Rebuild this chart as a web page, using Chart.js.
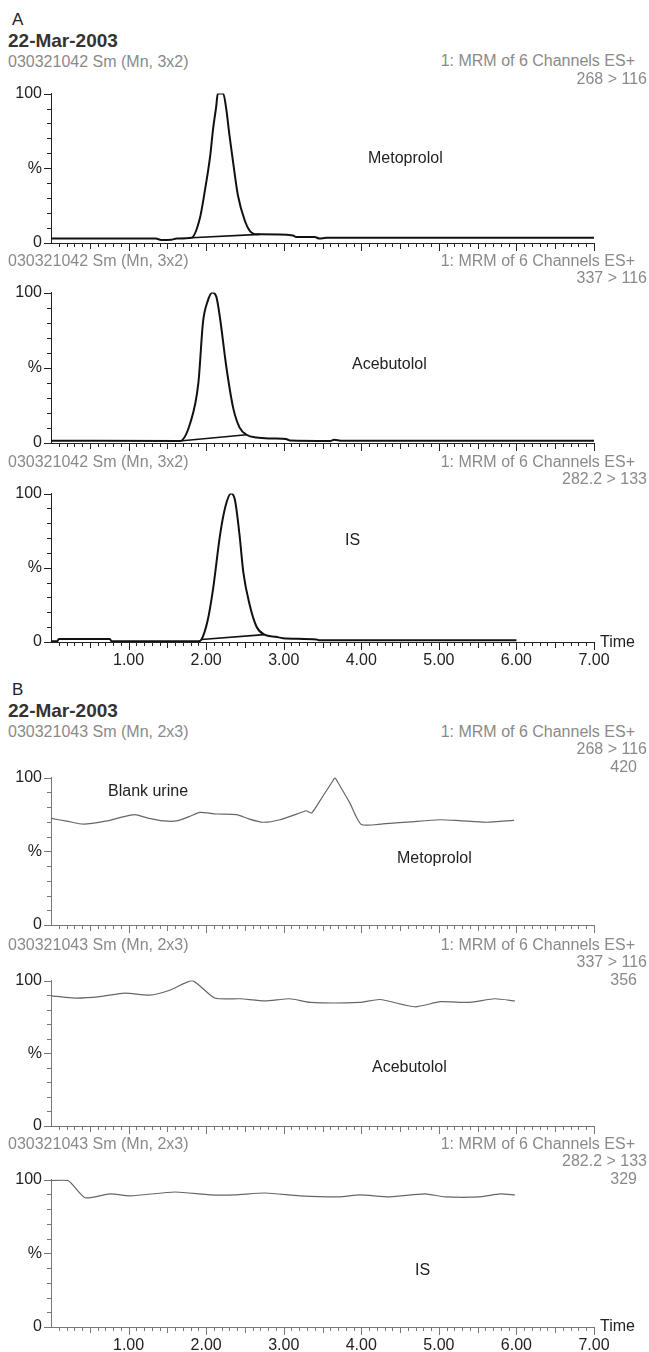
<!DOCTYPE html>
<html>
<head>
<meta charset="utf-8">
<script src="https://cdn.jsdelivr.net/npm/chart.js@4.4.0/dist/chart.umd.min.js"></script>
<style>
  body { margin: 0; background: #fff; }
  #page { position: relative; width: 649px; height: 1352px; overflow: hidden; font-family: "Liberation Sans", Arial, sans-serif; }
  #page canvas { position: absolute; left: 0; }
  .t { position: absolute; font-size: 16px; line-height: 16px; white-space: nowrap; color: #222; }
  .g { color: #8a8a8a; }
  .b { font-weight: bold; color: #333; font-size: 19px; line-height: 19px; }
  .h { font-size: 17px; line-height: 17px; }
  .r { text-align: right; }
</style>
</head>
<body>
<div id="page"></div>
<script>
// tick labels
const xTicks = [1, 2, 3, 4, 5, 6, 7];
const yTicks = [0, 50, 100];
const yTickLabels = ['0', '%', '100'];

// A: standard (time in min, intensity in %)
const a1Time = [0, 1.35, 1.42, 1.55, 1.62, 1.81, 1.92, 1.98, 2.05, 2.09, 2.13, 2.15, 2.22, 2.26, 2.30, 2.35, 2.41, 2.50, 2.56, 2.65, 2.70, 3.12, 3.16, 3.40, 3.46, 3.55, 7.0];
const a1Pct  = [3, 3, 2, 2.2, 3, 3.5, 16.8, 33.9, 57.4, 76.6, 91.5, 100, 100, 89.4, 72.3, 53.1, 31.8, 14.7, 8.3, 5.8, 5.8, 5.1, 4, 4, 3, 3.5, 3.5];
const a1BaseTime = [1.81, 2.69];
const a1BasePct  = [3.5, 5.8];

const a2Time = [0, 1.66, 1.79, 1.90, 1.96, 2.02, 2.08, 2.13, 2.18, 2.26, 2.35, 2.43, 2.52, 2.65, 2.86, 3.03, 3.08, 3.60, 3.65, 3.75, 7.0];
const a2Pct  = [1.5, 1.3, 12.5, 40, 80.5, 94.3, 100, 97.5, 82.6, 50.7, 23, 10.4, 5.5, 3.6, 3, 2.6, 1.7, 1.4, 2.2, 1.5, 1.5];
const a2BaseTime = [1.66, 2.52];
const a2BasePct  = [1.3, 5.5];

const a3Time = [0, 0.08, 0.10, 0.76, 0.78, 1.90, 1.94, 2.02, 2.09, 2.18, 2.25, 2.32, 2.37, 2.43, 2.48, 2.56, 2.65, 2.75, 2.90, 2.99, 3.42, 3.46, 6.0];
const a3Pct  = [0.5, 0.5, 2, 2, 0.5, 0.5, 1.7, 14.6, 36, 72.4, 91.6, 100, 96, 72.4, 46.7, 25.3, 10.3, 5, 3.5, 2.6, 1.7, 1.1, 1.1];
const a3BaseTime = [1.94, 2.75];
const a3BasePct  = [1.7, 5];

// B: blank urine
const b1Time = [0, 0.2, 0.42, 0.72, 0.9, 1.08, 1.25, 1.45, 1.62, 1.78, 1.92, 2.13, 2.39, 2.55, 2.73, 2.95, 3.25, 3.29, 3.36, 3.50, 3.63, 3.66, 3.69, 3.85, 4.0, 4.28, 4.62, 5.01, 5.26, 5.61, 5.78, 5.97];
const b1Pct  = [72.3, 70.5, 68.4, 70.6, 73, 74.9, 72.5, 70.6, 70.6, 73.5, 76.4, 75.3, 74.9, 72, 69.7, 71.4, 76.8, 77.5, 76, 87, 97.5, 100, 97.5, 83, 68.2, 68.6, 69.9, 71.4, 70.8, 69.7, 70.3, 71];

const b2Time = [0, 0.31, 0.63, 0.95, 1.27, 1.53, 1.82, 2.11, 2.44, 2.76, 3.08, 3.34, 3.98, 4.24, 4.69, 5.02, 5.4, 5.72, 5.98];
const b2Pct  = [89.5, 88, 89, 91.4, 90, 93.4, 100, 88, 87.5, 86, 87.5, 85, 85, 87, 82, 85.5, 85, 87.5, 86];

const b3Time = [0, 0.22, 0.44, 0.76, 1.02, 1.6, 2.05, 2.37, 2.76, 3.21, 3.72, 3.98, 4.37, 4.82, 5.08, 5.53, 5.79, 5.98];
const b3Pct  = [99.4, 99.4, 87.7, 90.3, 89, 91.6, 89.6, 89.6, 90.9, 89, 88.3, 89.6, 88.3, 90.3, 88.3, 88.3, 90.3, 89.6];

const family = '"Liberation Sans", Arial, sans-serif';
const page = document.getElementById('page');

function pts(ts, vs) {
  return ts.map((t, i) => ({ x: t, y: vs[i] }));
}

// minor / major tick marks on both axes
const tickMarks = {
  id: 'tickMarks',
  afterDraw(chart, args, opts) {
    const { ctx, scales: { x, y } } = chart;
    ctx.save();
    ctx.strokeStyle = opts.color;
    ctx.lineWidth = 1;
    ctx.beginPath();
    for (let i = 1; i <= 70; i++) {
      const px = Math.round(x.getPixelForValue(i / 10)) + 0.5;
      const len = i % 10 === 0 ? 8 : (i % 5 === 0 ? 6 : 4);
      ctx.moveTo(px, x.top);
      ctx.lineTo(px, x.top + len);
    }
    for (let j = 0; j <= 10; j++) {
      const py = Math.round(y.getPixelForValue(j * 10)) + 0.5;
      const len = j % 5 === 0 ? 7 : 4;
      ctx.moveTo(y.right - len, py);
      ctx.lineTo(y.right, py);
    }
    ctx.stroke();
    ctx.restore();
  }
};

function panel(top100, bottom0, datasets, showX, axisColor) {
  const padTop = 12, xH = 34;
  const c = document.createElement('canvas');
  c.width = 649;
  c.height = bottom0 - top100 + padTop + xH;
  c.style.top = (top100 - padTop) + 'px';
  page.appendChild(c);
  new Chart(c, {
    type: 'line',
    data: { datasets: datasets },
    options: {
      responsive: false,
      animation: false,
      devicePixelRatio: 1,
      layout: { padding: { top: padTop, right: 55, left: 0, bottom: 0 } },
      elements: { point: { radius: 0 } },
      plugins: {
        legend: { display: false },
        tooltip: { enabled: false },
        tickMarks: { color: axisColor }
      },
      scales: {
        x: {
          type: 'linear', min: 0, max: 7,
          afterFit: s => { s.height = xH; },
          afterBuildTicks: s => { s.ticks = xTicks.map(v => ({ value: v })); },
          grid: { display: false, drawTicks: false },
          border: { display: true, color: axisColor, width: 1 },
          ticks: {
            display: showX, autoSkip: false, maxRotation: 0, padding: 9,
            color: '#222', font: { size: 16, family: family },
            callback: v => v.toFixed(2)
          }
        },
        y: {
          min: 0, max: 100,
          afterFit: s => { s.width = 51; },
          afterBuildTicks: s => { s.ticks = yTicks.map(v => ({ value: v })); },
          grid: { display: false, drawTicks: false },
          border: { display: true, color: axisColor, width: 1 },
          ticks: {
            padding: 9, color: '#222', font: { size: 16, family: family },
            callback: v => yTickLabels[yTicks.indexOf(v)]
          }
        }
      }
    },
    plugins: [tickMarks]
  });
}

function peakSets(time, pct, baseTime, basePct) {
  return [
    { data: pts(time, pct), borderColor: '#111', borderWidth: 2, cubicInterpolationMode: 'monotone' },
    { data: pts(baseTime, basePct), borderColor: '#111', borderWidth: 1.6 }
  ];
}
function blankSet(time, pct) {
  return [{ data: pts(time, pct), borderColor: '#666', borderWidth: 1.2, tension: 0.2 }];
}

panel(87, 243, peakSets(a1Time, a1Pct, a1BaseTime, a1BasePct), false, '#222');
panel(286, 443, peakSets(a2Time, a2Pct, a2BaseTime, a2BasePct), false, '#222');
panel(487, 642, peakSets(a3Time, a3Pct, a3BaseTime, a3BasePct), true, '#222');
panel(771, 925, blankSet(b1Time, b1Pct), false, '#777');
panel(974, 1126, blankSet(b2Time, b2Pct), false, '#777');
panel(1173, 1327, blankSet(b3Time, b3Pct), true, '#777');

// text placed by its vertical centre
function txt(s, x, cy, cls, right) {
  const d = document.createElement('div');
  d.className = 't ' + (cls || '') + (right ? ' r' : '');
  d.textContent = s;
  page.appendChild(d);
  d.style.top = (cy - d.offsetHeight / 2) + 'px';
  if (right) d.style.right = (649 - x) + 'px'; else d.style.left = x + 'px';
}

txt('A', 12, 19, 'h');
txt('22-Mar-2003', 8, 40, 'b');
txt('030321042 Sm (Mn, 3x2)', 8, 62, 'g');
txt('1: MRM of 6 Channels ES+', 635, 61, 'g', true);
txt('268 > 116', 647, 79, 'g', true);
txt('030321042 Sm (Mn, 3x2)', 8, 261, 'g');
txt('1: MRM of 6 Channels ES+', 635, 261, 'g', true);
txt('337 > 116', 647, 278, 'g', true);
txt('030321042 Sm (Mn, 3x2)', 8, 462, 'g');
txt('1: MRM of 6 Channels ES+', 635, 462, 'g', true);
txt('282.2 > 133', 647, 479, 'g', true);
txt('Metoprolol', 368, 158);
txt('Acebutolol', 352, 364);
txt('IS', 345, 540);
txt('Time', 600, 642);

txt('B', 12, 689, 'h');
txt('22-Mar-2003', 8, 710, 'b');
txt('030321043 Sm (Mn, 2x3)', 8, 732, 'g');
txt('1: MRM of 6 Channels ES+', 635, 732, 'g', true);
txt('268 > 116', 647, 749, 'g', true);
txt('420', 637, 767, 'g', true);
txt('030321043 Sm (Mn, 2x3)', 8, 945, 'g');
txt('1: MRM of 6 Channels ES+', 635, 945, 'g', true);
txt('337 > 116', 647, 962, 'g', true);
txt('356', 637, 980, 'g', true);
txt('030321043 Sm (Mn, 2x3)', 8, 1144, 'g');
txt('1: MRM of 6 Channels ES+', 635, 1144, 'g', true);
txt('282.2 > 133', 647, 1161, 'g', true);
txt('329', 637, 1179, 'g', true);
txt('Blank urine', 108, 791);
txt('Metoprolol', 397, 858);
txt('Acebutolol', 372, 1067);
txt('IS', 415, 1270);
txt('Time', 600, 1326);
</script>
</body>
</html>
